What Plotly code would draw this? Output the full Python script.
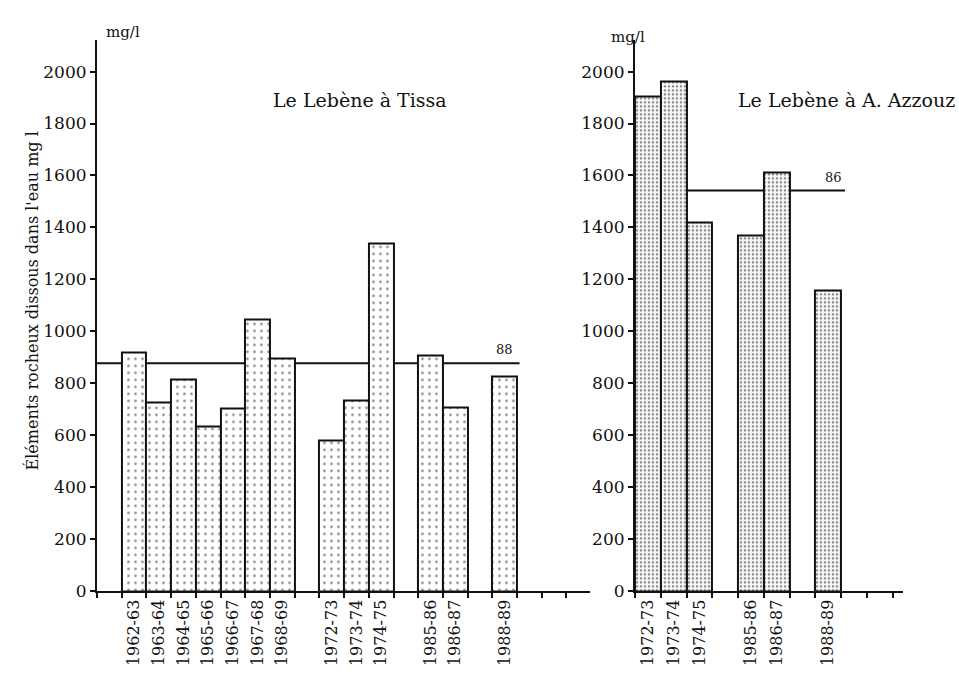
import plotly.graph_objects as go
from plotly.subplots import make_subplots

# Mean dissolved rock content (mg/l) per hydrological year; "" marks an empty slot
left_years = ["", "1962-63", "1963-64", "1964-65", "1965-66", "1966-67", "1967-68",
              "1968-69", "", "1972-73", "1973-74", "1974-75", "", "1985-86",
              "1986-87", "", "1988-89"]
left_vals = [None, 918, 725, 816, 634, 702, 1047, 896, None, 580, 733, 1340,
             None, 907, 706, None, 827]
left_mean = 877
left_mean_label = "88"

right_years = ["1972-73", "1973-74", "1974-75", "", "1985-86", "1986-87", "", "1988-89"]
right_vals = [1905, 1962, 1420, None, 1371, 1613, None, 1159]
right_mean = 1542
right_mean_label = "86"

y_ticks = list(range(0, 2001, 200))

FONT = "DejaVu Serif"
INK = "#111111"

fig = make_subplots(rows=1, cols=2)

def add_bars(years, vals, col, solidity, size):
    xs = list(range(len(years)))
    fig.add_trace(go.Bar(
        x=xs, y=vals, width=1,
        marker=dict(color="white",
                    line=dict(color=INK, width=2),
                    pattern=dict(shape=".", fgcolor=INK, bgcolor="white",
                                 size=size, solidity=solidity)),
        showlegend=False, hoverinfo="skip"), row=1, col=col)

add_bars(left_years, left_vals, 1, 0.12, 7)
add_bars(right_years, right_vals, 2, 0.35, 4)

def idx_labels(years):
    vals = [i for i, y in enumerate(years) if y]
    return vals, [years[i] for i in vals]

lt_v, lt_t = idx_labels(left_years)
rt_v, rt_t = idx_labels(right_years)

xcommon = dict(showline=True, linecolor=INK, linewidth=2, showgrid=False,
               zeroline=False, ticks="", tickangle=-90,
               tickfont=dict(family=FONT, size=16, color=INK),
               minor=dict(ticks="outside", tick0=-0.5, dtick=1, ticklen=5,
                          tickcolor=INK, tickwidth=1.5, showgrid=False))
ycommon = dict(range=[0, 2120], showline=True, linecolor=INK, linewidth=2,
               showgrid=False, zeroline=False, ticks="outside", ticklen=5,
               tickwidth=2, tickcolor=INK, tickvals=y_ticks,
               tickfont=dict(family=FONT, size=17, color=INK))

fig.update_xaxes(**xcommon, row=1, col=1, domain=[0.1011, 0.6152],
                 range=[-0.5, 19.45], tickmode="array", tickvals=lt_v, ticktext=lt_t)
fig.update_xaxes(**xcommon, row=1, col=2, domain=[0.6621, 0.9416],
                 range=[-0.5, 9.9], tickmode="array", tickvals=rt_v, ticktext=rt_t)
fig.update_yaxes(**ycommon, row=1, col=1, domain=[0.1215, 0.94])
fig.update_yaxes(**ycommon, row=1, col=2, domain=[0.1215, 0.94])

# Mean lines, drawn beneath the bars so taller bars hide them
fig.add_shape(type="line", xref="x", yref="y", x0=-0.5, x1=16.6,
              y0=left_mean, y1=left_mean, layer="below",
              line=dict(color=INK, width=2))
fig.add_shape(type="line", xref="x2", yref="y2", x0=-0.5, x1=7.65,
              y0=right_mean, y1=right_mean, layer="below",
              line=dict(color=INK, width=2))

fig.add_annotation(x=16.0, y=left_mean, xref="x", yref="y", text=left_mean_label,
                   showarrow=False, yanchor="bottom", yshift=4,
                   font=dict(family=FONT, size=13, color=INK))
fig.add_annotation(x=7.2, y=right_mean, xref="x2", yref="y2", text=right_mean_label,
                   showarrow=False, yanchor="bottom", yshift=4,
                   font=dict(family=FONT, size=13, color=INK))

# Panel titles
fig.add_annotation(x=360 / 959, y=1 - 88 / 683, xref="paper", yref="paper",
                   text="Le Lebène à Tissa", showarrow=False,
                   font=dict(family=FONT, size=19, color=INK))
fig.add_annotation(x=957 / 959, y=1 - 88 / 683, xref="paper", yref="paper",
                   xanchor="right", text="Le Lebène à A. Azzouz", showarrow=False,
                   font=dict(family=FONT, size=19, color=INK))

# Units above each axis
fig.add_annotation(x=104 / 959, y=1 - 21 / 683, xref="paper", yref="paper",
                   text="mg/l", showarrow=False,
                   font=dict(family=FONT, size=15, color=INK))
fig.add_annotation(x=628 / 959, y=1 - 26 / 683, xref="paper", yref="paper",
                   text="mg/l", showarrow=False,
                   font=dict(family=FONT, size=15, color=INK))

# Vertical axis caption
fig.add_annotation(x=20 / 959, y=1 - 306 / 683, xref="paper", yref="paper",
                   text="Éléments rocheux dissous dans l'eau mg l", textangle=-90,
                   showarrow=False, font=dict(family=FONT, size=16, color=INK))

fig.update_layout(width=959, height=683, margin=dict(l=0, r=0, t=0, b=0),
                  paper_bgcolor="white", plot_bgcolor="white", bargap=0)

fig.write_html("out.html")
